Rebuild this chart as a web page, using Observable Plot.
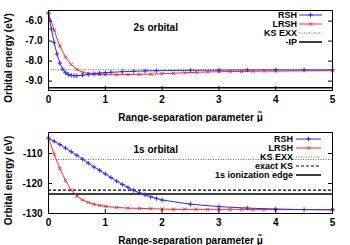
<!DOCTYPE html>
<html><head><meta charset="utf-8">
<script src="https://cdn.jsdelivr.net/npm/d3@7"></script>
<script src="https://cdn.jsdelivr.net/npm/@observablehq/plot@0.6"></script>
<style>
body{margin:0;background:#fff;}
#chart svg{display:block;}
</style></head><body><div id="chart"></div>
<script>
const xTicks = [0, 1, 2, 3, 4, 5];
const xLabel = "Range-separation parameter μ̃";
const yLabel = "Orbital energy (eV)";

// ---- 2s orbital ----
const title2s = "2s orbital";
const mu2sRSH = [0, 0.05, 0.1, 0.15, 0.2, 0.25, 0.3, 0.35, 0.4, 0.45, 0.5, 0.6, 0.7, 0.8, 0.9, 1.0, 1.1, 1.3, 1.5, 1.7, 1.9, 2.5, 3.0, 3.5, 4.0, 4.5, 5.0];
const e2sRSH  = [-5.6, -6.4, -7.08, -7.65, -8.1, -8.4, -8.58, -8.67, -8.71, -8.73, -8.73, -8.71, -8.67, -8.63, -8.6, -8.58, -8.56, -8.53, -8.51, -8.49, -8.48, -8.46, -8.45, -8.44, -8.44, -8.44, -8.44];
const mu2sLRSH = [0, 0.1, 0.2, 0.3, 0.4, 0.5, 0.6, 0.7, 0.8, 0.9, 1.0, 1.2, 1.4, 1.6, 1.8, 2.0, 2.2, 2.4, 2.6, 2.8, 3.0, 3.2, 3.4, 3.6, 3.8, 4.0, 5.0];
const e2sLRSH  = [-5.6, -6.45, -7.25, -7.8, -8.17, -8.42, -8.56, -8.62, -8.65, -8.67, -8.68, -8.68, -8.67, -8.66, -8.65, -8.63, -8.61, -8.58, -8.56, -8.54, -8.53, -8.52, -8.52, -8.51, -8.5, -8.5, -8.48];
const e2sKSEXX = -8.43;
const e2sIP = -9.33;
const y2sTicks = [-6, -7, -8, -9];
const y2sDomain = [-9.47, -5.47];
const legend2s = ["RSH", "LRSH", "KS EXX", "-IP"];

// ---- 1s orbital ----
const title1s = "1s orbital";
const mu1sRSH = [0, 0.1, 0.2, 0.3, 0.4, 0.5, 0.6, 0.7, 0.8, 0.9, 1.0, 1.1, 1.2, 1.3, 1.4, 1.5, 1.6, 1.7, 1.8, 1.9, 2.0, 2.5, 3.0, 3.5, 4.0, 4.5, 5.0];
const e1sRSH  = [-104.9, -105.9, -107.0, -108.2, -109.4, -110.6, -111.9, -113.2, -114.5, -115.6, -116.8, -118.0, -119.2, -120.3, -121.3, -122.3, -123.1, -123.8, -124.4, -125.0, -125.5, -126.9, -127.7, -128.2, -128.5, -128.7, -128.8];
const mu1sLRSH = [0, 0.1, 0.2, 0.3, 0.4, 0.5, 0.6, 0.7, 0.8, 0.9, 1.0, 1.2, 1.4, 1.6, 1.8, 2.0, 2.2, 2.4, 2.6, 2.8, 3.0, 3.2, 3.4, 3.6, 3.8, 4.0, 5.0];
const e1sLRSH  = [-104.8, -110.3, -115.0, -119.0, -122.2, -124.2, -125.5, -126.3, -126.9, -127.3, -127.6, -128.0, -128.2, -128.3, -128.4, -128.5, -128.6, -128.6, -128.6, -128.6, -128.6, -128.6, -128.6, -128.7, -128.7, -128.7, -128.7];
const e1sKSEXX = -112.0;
const e1sExactKS = -122.2;
const e1sEdge = -123.5;
const y1sTicks = [-110, -120, -130];
const y1sDomain = [-130, -103];
const legend1s = ["RSH", "LRSH", "KS EXX", "exact KS", "1s ionization edge"];

const BLUE = "#2a2aff", RED = "#ff2a2a", GREEN = "#2f962f";
const FONT = "'Liberation Sans', Arial, sans-serif";

function zip(xs, ys) { return xs.map((x, i) => ({x, y: ys[i]})); }

function panel({height, title, yDomain, yTicks, yFmt, rsh, lrsh, hlines, legend, legendCfg}) {
  const W = 350, mL = 48, mR = 18, mT = 10, mB = 32;
  const innerW = W - mL - mR, innerH = height - mT - mB;
  const marks = [
    ...hlines.map(h => Plot.ruleY([h.value], {stroke: h.color, strokeWidth: h.width, strokeDasharray: h.dash})),
    Plot.line(lrsh, {x: "x", y: "y", stroke: RED, strokeWidth: 1}),
    Plot.dot(lrsh, {x: "x", y: "y", stroke: RED, symbol: "times", r: 1.6, strokeWidth: 1}),
    Plot.line(rsh, {x: "x", y: "y", stroke: BLUE, strokeWidth: 1}),
    Plot.dot(rsh, {x: "x", y: "y", stroke: BLUE, symbol: "plus", r: 1.6, strokeWidth: 1}),
    Plot.frame({stroke: "black", strokeWidth: 1}),
    Plot.tickX(xTicks, {x: d => d, insetTop: innerH - 4, stroke: "black"}),
    Plot.tickY(yTicks, {y: d => d, insetRight: innerW - 4, stroke: "black"}),
    Plot.tickY(yTicks, {y: d => d, insetLeft: innerW - 4, stroke: "black"}),
    Plot.axisX(xTicks, {tickSize: 0, tickPadding: 5, label: null}),
    Plot.axisY(yTicks, {tickSize: 0, tickPadding: 6, tickFormat: yFmt, label: null}),
    Plot.text([xLabel], {text: d => d, frameAnchor: "bottom", textAnchor: "middle", lineAnchor: "middle", dy: 27}),
    Plot.text([yLabel], {text: d => d, frameAnchor: "left", textAnchor: "middle", lineAnchor: "middle", rotate: -90, dx: -40, dy: 7.5}),
    Plot.text([title], {text: d => d, frameAnchor: "top-left", textAnchor: "start", lineAnchor: "middle", dx: 85, dy: 17})
  ];
  const svg = Plot.plot({
    width: W, height, marginLeft: mL, marginRight: mR, marginTop: mT, marginBottom: mB,
    x: {domain: [0, 5]},
    y: {domain: yDomain},
    style: {fontFamily: FONT, fontWeight: "bold", fontSize: "10px", color: "black", background: "white"},
    marks
  });
  // legend
  const g = d3.select(svg).append("g").attr("font-family", FONT).attr("font-weight", "bold").attr("font-size", legendCfg.fontSize);
  legend.forEach((e, i) => {
    const y = legendCfg.y0 + i * legendCfg.dy;
    g.append("text").attr("x", legendCfg.textRight).attr("y", y).attr("dy", "0.35em")
      .attr("text-anchor", "end").attr("fill", "black").text(e.label);
    g.append("line").attr("x1", legendCfg.x1).attr("x2", legendCfg.x2).attr("y1", y).attr("y2", y)
      .attr("stroke", e.color).attr("stroke-width", e.width).attr("stroke-dasharray", e.dash || null);
    if (e.symbol) {
      g.append("path").attr("transform", `translate(${(legendCfg.x1 + legendCfg.x2) / 2},${y})`)
        .attr("d", d3.symbol(e.symbol, Math.PI * 1.6 * 1.6)()).attr("fill", "none").attr("stroke", e.color);
    }
  });
  return svg;
}

const styles = {
  RSH: {color: BLUE, width: 1, symbol: d3.symbolPlus},
  LRSH: {color: RED, width: 1, symbol: d3.symbolTimes},
  KSEXX: {color: GREEN, width: 1, dash: "1,1.5"},
  IP: {color: "black", width: 1.5},
  exact: {color: "black", width: 1.2, dash: "3,2"}
};

const chart = document.getElementById("chart");
chart.append(panel({
  height: 122, title: title2s, yDomain: y2sDomain, yTicks: y2sTicks, yFmt: d => d.toFixed(1),
  rsh: zip(mu2sRSH, e2sRSH), lrsh: zip(mu2sLRSH, e2sLRSH),
  hlines: [
    {value: e2sKSEXX, ...styles.KSEXX},
    {value: e2sIP, ...styles.IP}
  ],
  legend: [
    {label: legend2s[0], ...styles.RSH},
    {label: legend2s[1], ...styles.LRSH},
    {label: legend2s[2], ...styles.KSEXX},
    {label: legend2s[3], ...styles.IP}
  ],
  legendCfg: {textRight: 297, x1: 299, x2: 322, y0: 15, dy: 9, fontSize: "9px"}
}));
chart.append(panel({
  height: 123, title: title1s, yDomain: y1sDomain, yTicks: y1sTicks, yFmt: d => String(d),
  rsh: zip(mu1sRSH, e1sRSH), lrsh: zip(mu1sLRSH, e1sLRSH),
  hlines: [
    {value: e1sKSEXX, ...styles.KSEXX},
    {value: e1sExactKS, ...styles.exact},
    {value: e1sEdge, ...styles.IP}
  ],
  legend: [
    {label: legend1s[0], ...styles.RSH},
    {label: legend1s[1], ...styles.LRSH},
    {label: legend1s[2], ...styles.KSEXX},
    {label: legend1s[3], ...styles.exact},
    {label: legend1s[4], ...styles.IP}
  ],
  legendCfg: {textRight: 293, x1: 296, x2: 321, y0: 17, dy: 9, fontSize: "9px"}
}));
</script></body></html>
